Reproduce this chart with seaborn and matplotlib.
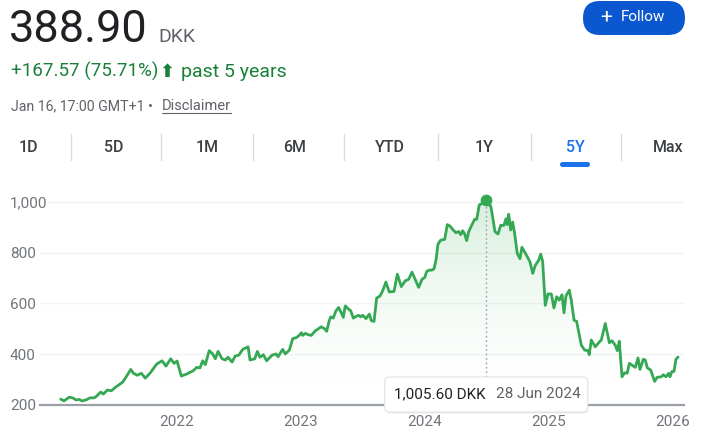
import numpy as np
import pandas as pd
import matplotlib
matplotlib.use("Agg")
import matplotlib.pyplot as plt
import seaborn as sns
from matplotlib.patches import FancyBboxPatch
from matplotlib.transforms import IdentityTransform
from matplotlib.colors import to_rgb
from matplotlib.ticker import FuncFormatter

# price history (fractional year, DKK)
years = [2021.062, 2021.089, 2021.131, 2021.159, 2021.185, 2021.212, 2021.234, 2021.266,
         2021.298, 2021.331, 2021.352, 2021.385, 2021.406, 2021.438, 2021.470, 2021.502,
         2021.562, 2021.594, 2021.627, 2021.648, 2021.680, 2021.712, 2021.744, 2021.782,
         2021.836, 2021.879, 2021.911, 2021.949, 2021.976, 2022.000, 2022.035, 2022.078,
         2022.131, 2022.159, 2022.185, 2022.207, 2022.228, 2022.260, 2022.288, 2022.309,
         2022.331, 2022.363, 2022.390, 2022.411, 2022.444, 2022.470, 2022.498, 2022.530,
         2022.573, 2022.589, 2022.627, 2022.648, 2022.669, 2022.696, 2022.723, 2022.766,
         2022.798, 2022.815, 2022.852, 2022.873, 2022.906, 2022.933, 2022.965, 2022.985,
         2023.003, 2023.014, 2023.035, 2023.056, 2023.083, 2023.115, 2023.164, 2023.191,
         2023.207, 2023.228, 2023.240, 2023.260, 2023.282, 2023.304, 2023.325, 2023.341,
         2023.357, 2023.385, 2023.401, 2023.422, 2023.449, 2023.465, 2023.481, 2023.498,
         2023.524, 2023.551, 2023.567, 2023.589, 2023.610, 2023.637, 2023.659, 2023.685,
         2023.712, 2023.750, 2023.777, 2023.809, 2023.841, 2023.869, 2023.895, 2023.927,
         2023.949, 2023.976, 2023.998, 2024.014, 2024.035, 2024.056, 2024.073, 2024.089,
         2024.105, 2024.127, 2024.159, 2024.180, 2024.202, 2024.224, 2024.250, 2024.272,
         2024.288, 2024.304, 2024.320, 2024.336, 2024.353, 2024.379, 2024.401, 2024.417,
         2024.438, 2024.460, 2024.476, 2024.494, 2024.515, 2024.531, 2024.548, 2024.564,
         2024.589, 2024.610, 2024.637, 2024.653, 2024.664, 2024.675, 2024.691, 2024.707,
         2024.723, 2024.744, 2024.766, 2024.782, 2024.804, 2024.825, 2024.847, 2024.869,
         2024.890, 2024.917, 2024.933, 2024.949, 2024.970, 2024.992, 2025.019, 2025.040,
         2025.062, 2025.083, 2025.105, 2025.121, 2025.137, 2025.164, 2025.180, 2025.202,
         2025.223, 2025.261, 2025.288, 2025.315, 2025.325, 2025.341, 2025.373, 2025.406,
         2025.422, 2025.454, 2025.487, 2025.508, 2025.535, 2025.551, 2025.567, 2025.589,
         2025.610, 2025.631, 2025.648, 2025.696, 2025.718, 2025.734, 2025.761, 2025.777,
         2025.793, 2025.820, 2025.852, 2025.873, 2025.906, 2025.922, 2025.944, 2025.965,
         2025.976, 2025.992, 2026.008, 2026.024, 2026.041]
prices = [223, 216, 231, 228, 220, 222, 216, 220,
          228, 228, 235, 251, 243, 259, 256, 269,
          290, 314, 340, 325, 317, 325, 306, 325,
          361, 374, 353, 382, 364, 373, 314, 322,
          335, 348, 346, 374, 359, 414, 401, 382,
          411, 382, 377, 388, 369, 393, 396, 419,
          429, 377, 382, 411, 388, 398, 374, 396,
          401, 390, 419, 401, 416, 461, 466, 474,
          484, 474, 482, 477, 474, 492, 508, 500,
          490, 532, 547, 542, 571, 584, 563, 545,
          590, 577, 571, 542, 550, 553, 547, 553,
          540, 558, 532, 529, 621, 629, 650, 684,
          645, 647, 715, 666, 689, 695, 723, 688,
          663, 695, 702, 726, 731, 731, 736, 771,
          834, 849, 852, 910, 904, 891, 878, 883,
          870, 886, 873, 847, 883, 910, 931, 931,
          988, 993, 993, 1005.6, 988, 983, 933, 883,
          873, 907, 907, 933, 910, 951, 889, 920,
          876, 797, 776, 821, 802, 784, 763, 718,
          750, 770, 794, 765, 592, 637, 637, 582,
          626, 613, 634, 563, 629, 652, 613, 534,
          529, 435, 416, 414, 398, 456, 429, 448,
          456, 521, 445, 453, 435, 414, 451, 311,
          327, 325, 364, 348, 385, 340, 380, 377,
          346, 338, 293, 309, 311, 319, 311, 325,
          311, 332, 332, 380, 388.9]

year_ticks = [2022, 2023, 2024, 2025, 2026]
price_ticks = [200, 400, 600, 800, 1000]
tabs = ["1D", "5D", "1M", "6M", "YTD", "1Y", "5Y", "Max"]
tab_x = [28, 114, 207, 295, 390, 484, 575, 668]
tab_sep_x = [70.6, 161.4, 252.7, 344, 438.4, 530.6, 621.4]
active_tab = "5Y"
last_price = "388.90"
currency = "DKK"
change_text = "+167.57 (75.71%)"
period_text = "past 5 years"
timestamp_text = "Jan 16, 17:00 GMT+1 \u2022"
peak_date = "28 Jun 2024"

GREEN = "#34a853"
W, H = 705, 446

sns.set_style("white")
plt.rcParams["font.family"] = ["Roboto", "DejaVu Sans"]

df = pd.DataFrame({"year": years, "price": prices})

fig = plt.figure(figsize=(W / 100, H / 100), dpi=100)
fig.patch.set_facecolor("white")
ax = fig.add_axes([40 / W, 41 / H, 644 / W, 220 / H])

sns.lineplot(data=df, x="year", y="price", ax=ax, color=GREEN, linewidth=2, zorder=4)

# vertical gradient under the line
poly = ax.fill_between(df["year"], df["price"], 200, color="none", lw=0)
n = 256
frac = np.linspace(0, 1, n)
rgba = np.zeros((n, 1, 4))
rgba[..., :3] = to_rgb(GREEN)
rgba[:, 0, 3] = 0.2 * frac ** 1.7
img = ax.imshow(rgba, extent=[years[0], years[-1], 200, 1010], origin="lower",
                aspect="auto", zorder=2, interpolation="bilinear")
img.set_clip_path(poly.get_paths()[0], transform=ax.transData)
ax.set_xlim(2020.895, 2026.089)
ax.set_ylim(200, 1066)

# axes styling
for side in ["top", "right", "left"]:
    ax.spines[side].set_visible(False)
ax.spines["bottom"].set_color("#9aa0a6")
ax.spines["bottom"].set_linewidth(1.6)
ax.spines["bottom"].set_zorder(6)
ax.set_xticks(year_ticks)
ax.set_xticklabels([str(y) for y in year_ticks])
ax.set_yticks(price_ticks)
ax.yaxis.set_major_formatter(FuncFormatter(lambda v, p: f"{v:,.0f}"))
ax.tick_params(axis="x", length=4.5, width=1, color="#9aa0a6", labelcolor="#70757a",
               labelsize=11, pad=3)
ax.tick_params(axis="y", length=0, labelcolor="#70757a", labelsize=11, pad=21.6)
for lab in ax.get_yticklabels():
    lab.set_horizontalalignment("left")
    lab.set_bbox(dict(facecolor="white", edgecolor="none", pad=0.5))
ax.yaxis.grid(True, color="#f1f3f4", lw=1)
ax.xaxis.grid(False)
ax.set_xlabel("")
ax.set_ylabel("")

# peak marker, guide and tooltip
i_peak = int(np.argmax(prices))
peak_x, peak_y = years[i_peak], prices[i_peak]
ax.scatter([peak_x], [peak_y], s=55, color=GREEN, zorder=7, clip_on=False)
px, py = ax.transData.transform((peak_x, peak_y))
box_w, box_h, box_bottom = 203, 35, H - 412
y_low = ax.transData.inverted().transform((px, box_bottom + box_h))[1]
ax.vlines(peak_x, y_low, peak_y, colors="#9aa0a6", linestyles=(0, (1.2, 2)), lw=1, zorder=3)

idt = IdentityTransform()
fig.add_artist(FancyBboxPatch((px - box_w / 2 + 0.5, box_bottom - 1.5), box_w, box_h,
                              boxstyle="round,pad=0,rounding_size=5", transform=idt,
                              fc="#000000", ec="none", alpha=0.08, zorder=8))
fig.add_artist(FancyBboxPatch((px - box_w / 2, box_bottom), box_w, box_h,
                              boxstyle="round,pad=0,rounding_size=5", transform=idt,
                              fc="white", ec="#e3e3e3", lw=0.8, zorder=9))
fig.text(px - box_w / 2 + 9, box_bottom + box_h / 2, f"{peak_y:,.2f} {currency}",
         transform=idt, fontsize=11, color="#202124", va="center", zorder=10)
fig.text(px - box_w / 2 + 111, box_bottom + box_h / 2, peak_date,
         transform=idt, fontsize=11, color="#5f6368", va="center", zorder=10)


# header
def T(x, y, s, **kw):
    return fig.text(x, H - y, s, transform=idt, **kw)


T(9, 42, last_price, fontsize=32.5, color="#202124", va="baseline")
T(158, 42, currency, fontsize=14, color="#5f6368", va="baseline")
T(11, 77, change_text, fontsize=13.5, color="#188038", va="baseline")
T(159, 77, "\u2b06", fontsize=13, color="#188038", va="baseline", fontweight="bold")
T(181, 77, period_text, fontsize=14, color="#188038", va="baseline")
T(11, 110, timestamp_text, fontsize=10.2, color="#5f6368", va="baseline")
disc = T(162, 110, "Disclaimer", fontsize=10.5, color="#5f6368", va="baseline")
fig.canvas.draw()
bb = disc.get_window_extent()
fig.add_artist(plt.Line2D([bb.x0, bb.x1], [H - 113, H - 113], transform=idt,
                          color="#5f6368", lw=0.8))

# follow button
fig.add_artist(FancyBboxPatch((583, H - 35), 102, 34, boxstyle="round,pad=0,rounding_size=17",
                              transform=idt, fc="#0b57d0", ec="none"))
T(606, 17, "+", fontsize=15, color="white", va="center", ha="center")
T(621, 17, "Follow", fontsize=11, color="white", va="center")

# range tabs
for t, x in zip(tabs, tab_x):
    active = t == active_tab
    T(x, 147, t, fontsize=11.5, color="#1a73e8" if active else "#3c4043",
      ha="center", va="center", fontweight="medium")
    if active:
        fig.add_artist(FancyBboxPatch((x - 15, H - 167), 30, 5,
                                      boxstyle="round,pad=0,rounding_size=2.5",
                                      transform=idt, fc="#1a73e8", ec="none"))
for xs in tab_sep_x:
    fig.add_artist(plt.Line2D([xs, xs], [H - 134, H - 160], transform=idt,
                              color="#dadce0", lw=1))

fig.savefig("out.png", dpi=100, facecolor="white")
